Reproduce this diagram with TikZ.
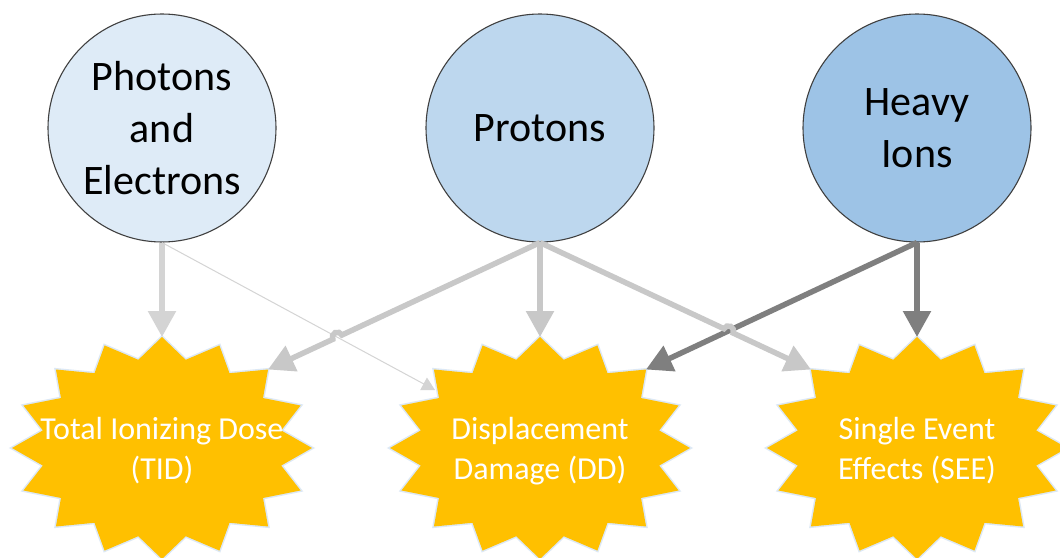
\documentclass[tikz,border=0pt]{standalone}
\usepackage{fontspec}
\setmainfont{Carlito}
\usetikzlibrary{arrows.meta,calc}
\definecolor{cone}{HTML}{DEEBF7}
\definecolor{ctwo}{HTML}{BDD7EE}
\definecolor{cthree}{HTML}{9DC3E6}
\definecolor{gold}{HTML}{FFC000}
\definecolor{lgray}{HTML}{C8C8C8}
\definecolor{vlgray}{HTML}{D4D4D4}
\definecolor{dgray}{HTML}{7F7F7F}
\definecolor{glow}{HTML}{DCE8F5}
\newcommand\burstshape[1]{%
  \fill[burst] ($(#1)+(0,-111)$)
    \foreach \i in {0,...,15}{
      -- ($(#1)+({0.81*150*cos(90+\i*22.5+11.25)},{-0.81*111*sin(90+\i*22.5+11.25)})$)
      -- ($(#1)+({150*cos(90+(\i+1)*22.5)},{-111*sin(90+(\i+1)*22.5)})$)
    } -- cycle;}
\begin{document}
\begin{tikzpicture}[x=1pt,y=-1pt,
  src/.style={circle,draw=black!75,line width=1.1pt,minimum size=228pt,inner sep=0pt,
    align=center,font=\fontsize{42}{52}\selectfont,text=black},
  lbl/.style={align=center,text=white,font=\fontsize{32}{40}\selectfont,inner sep=0pt},
  burst/.style={fill=gold,preaction={draw=glow,line width=3pt,line join=miter}},
  fat/.style={line width=5.5pt,-{Triangle[width=27pt,length=26pt]}},
  slim/.style={line width=1pt,vlgray,-{Triangle[width=14pt,length=13pt]}}]
\useasboundingbox (0,0) rectangle (1060,557);
\fill[white] (0,0) rectangle (1060,557);
% effect stars
\coordinate (Tc) at (162,448);
\coordinate (Dc) at (540,448);
\coordinate (Sc) at (917,448);
\burstshape{Tc}
\burstshape{Dc}
\burstshape{Sc}
\node[lbl] (T) at ($(Tc)+(0,3)$) {Total Ionizing Dose\\(TID)};
\node[lbl] (D) at ($(Dc)+(0,3)$) {Displacement\\Damage (DD)};
\node[lbl] (S) at ($(Sc)+(0,3)$) {Single Event\\Effects (SEE)};
\coordinate (Ttop) at ($(Tc)+(0,-111)$);
\coordinate (Tne) at ($(Tc)+(106,-78.5)$);
\coordinate (Dtop) at ($(Dc)+(0,-111)$);
\coordinate (Dne) at ($(Dc)+(106,-78.5)$);
\coordinate (Dw) at ($(Dc)+(-105,-58)$);
\coordinate (Stop) at ($(Sc)+(0,-111)$);
\coordinate (Snw) at ($(Sc)+(-106,-78.5)$);
% sources
\node[src,fill=cone] (P) at (162,128) {Photons\\and\\Electrons};
\node[src,fill=ctwo] (B) at (540,128) {Protons};
\node[src,fill=cthree] (H) at (917,128) {Heavy\\Ions};
% connectors
\draw[slim] (P.south) -- (Dw);
\draw[fat,vlgray] (P.south) -- (Ttop);
\draw[fat,lgray] (B.south) -- ($(B.south)!0.7285!(Tne)$)
  arc[start angle=-25.11,end angle=-205.11,radius=5] -- (Tne);
\draw[fat,lgray] (B.south) -- (Dtop);
\draw[fat,dgray] (H.south) -- (Dne);
\draw[fat,dgray] (H.south) -- (Stop);
\draw[fat,lgray] (B.south) -- ($(B.south)!0.6789!(Snw)$)
  arc[start angle=205.19,end angle=385.19,radius=5] -- (Snw);
\end{tikzpicture}
\end{document}
